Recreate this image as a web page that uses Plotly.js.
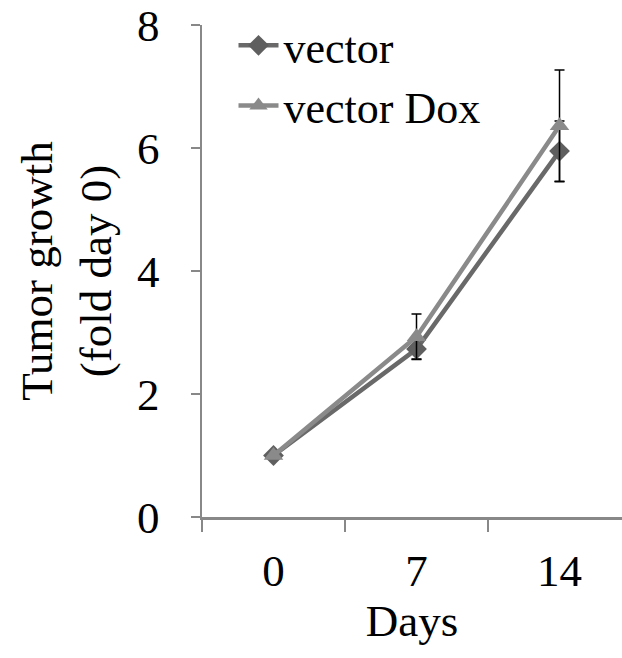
<!DOCTYPE html>
<html>
<head>
<meta charset="utf-8">
<script src="https://cdn.plot.ly/plotly-3.0.1.min.js"></script>
<style>html,body{margin:0;padding:0;background:#fff;overflow:hidden}</style>
</head>
<body>
<div id="chart" style="width:622px;height:658px"></div>
<script>
const days = ["0", "7", "14"];
const vectorVals = [1.0, 2.73, 5.95];
const vectorErr = [0, 0.16, 0.49];
const doxVals = [1.0, 2.93, 6.36];
const doxErr = [0, 0.37, 0.91];
const seriesNames = ["vector", "vector Dox"];

const F = "Liberation Serif, Times New Roman, serif";

const traces = [
  {
    x: days, y: vectorVals, name: seriesNames[0], type: "scatter", mode: "lines+markers",
    line: {color: "#696969", width: 4.5},
    marker: {symbol: "diamond", size: 16, color: "#5f5f5f"},
    error_y: {type: "data", array: vectorErr, visible: true, color: "#000", thickness: 1.5, width: 5}
  },
  {
    x: days, y: doxVals, name: seriesNames[1], type: "scatter", mode: "lines+markers",
    line: {color: "#8a8a8a", width: 4.5},
    marker: {symbol: "triangle-up", size: 17, color: "#8a8a8a"},
    error_y: {type: "data", array: doxErr, visible: true, color: "#000", thickness: 1.5, width: 5}
  }
];

const layout = {
  width: 622, height: 658,
  margin: {l: 202, r: 0, t: 25, b: 141},
  paper_bgcolor: "#fff", plot_bgcolor: "#fff",
  font: {family: F, size: 45, color: "#000"},
  showlegend: true,
  legend: {x: 0.075, y: 1.03, xanchor: "left", yanchor: "top", bgcolor: "rgba(0,0,0,0)",
           font: {family: F, size: 44, color: "#000"}, tracegroupgap: 0, itemwidth: 40},
  xaxis: {
    type: "category", range: [-0.5, 2.437], tickson: "boundaries",
    ticks: "outside", ticklen: 12, tickwidth: 2, tickcolor: "#888",
    showline: true, linecolor: "#888", linewidth: 2.5, showgrid: false, zeroline: false,
    tickfont: {family: F, size: 45, color: "#000"}, ticklabelstandoff: 12,
    title: {text: "Days", font: {family: F, size: 45, color: "#000"}, standoff: 10}
  },
  yaxis: {
    range: [0, 8], tickvals: [0, 2, 4, 6, 8], ticks: "outside", ticklen: 9, tickwidth: 2, tickcolor: "#888",
    showline: true, linecolor: "#888", linewidth: 2.5, showgrid: false, zeroline: false,
    tickfont: {family: F, size: 45, color: "#000"}, ticklabelstandoff: 22,
    title: {text: "Tumor growth<br>(fold day 0)", font: {family: F, size: 45, color: "#000"}, standoff: 12}
  }
};

Plotly.newPlot("chart", traces, layout, {displayModeBar: false, staticPlot: true});
</script>
</body>
</html>
